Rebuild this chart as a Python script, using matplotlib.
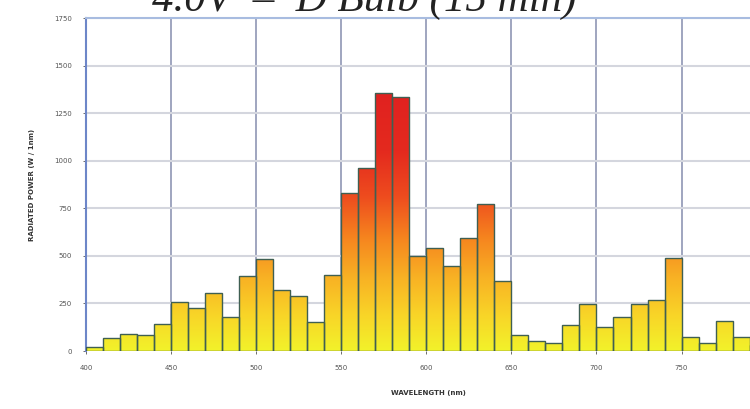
import matplotlib.pyplot as plt
import numpy as np
from matplotlib.colors import LinearSegmentedColormap

plt.rcParams.update({'font.size': 5})

# bin start wavelengths (nm) and radiated power per bin
wavelengths = list(range(400, 800, 10))
power = [20, 68, 90, 84, 142, 257, 226, 305, 179, 394,
         483, 320, 289, 152, 399, 830, 961, 1355, 1334, 499,
         541, 446, 593, 772, 368, 84, 53, 42, 137, 247,
         126, 179, 247, 268, 488, 74, 42, 158, 74, 30]
xticks = [400, 450, 500, 550, 600, 650, 700, 750]
yticks = [0, 250, 500, 750, 1000, 1250, 1500, 1750]

# colour by absolute height: yellow at the floor, red from ~800 up
cmap = LinearSegmentedColormap.from_list(
    'heat', [(0.0, '#f2f22a'), (0.12, '#f8d828'), (0.28, '#f8b024'),
             (0.42, '#f6861f'), (0.58, '#ee4c1e'), (0.75, '#e42a1e'),
             (1.0, '#e02020')])

fig = plt.figure(figsize=(7.5, 4.09), dpi=100)
ax = fig.add_axes([0.1147, 0.1418, 0.912, 0.814])

bars = ax.bar(wavelengths, power, width=10, align='edge',
              color='none', edgecolor='#3f5f52', linewidth=1.0, zorder=3)
grad = np.linspace(0, 1, 256).reshape(-1, 1)
for b, x in zip(bars, wavelengths):
    im = ax.imshow(grad, cmap=cmap, origin='lower', aspect='auto',
                   extent=[x, x + 10, 0, 1400], zorder=2,
                   interpolation='bilinear')
    im.set_clip_path(b)

ax.set_xlim(400, 802)
ax.set_ylim(0, 1750)
ax.set_xticks(xticks)
ax.set_yticks(yticks)
ax.set_xticklabels([str(v) for v in xticks], color='#555555')
ax.set_yticklabels([str(v) for v in yticks], color='#555555')
ax.tick_params(length=2, width=0.6, colors='#555555', pad=8)

ax.grid(axis='x', color='#8f96b4', linewidth=1.2, zorder=0)
ax.grid(axis='y', color='#d4d6de', linewidth=1.5, zorder=0)
ax.set_axisbelow(True)
for s in ['right', 'bottom']:
    ax.spines[s].set_visible(False)
ax.spines['left'].set_color('#6d86c8')
ax.spines['left'].set_linewidth(1.5)
ax.spines['top'].set_color('#a8bce0')
ax.spines['top'].set_linewidth(1.5)

ax.set_xlabel('WAVELENGTH (nm)', color='#333333', fontweight='bold', labelpad=14)
ax.set_ylabel('RADIATED POWER (W / 1nm)', color='#333333', fontweight='bold', labelpad=14)

# title sits mostly above the top edge, only its lower part shows
fig.text(0.486, 0.972, '4.0V  \u2013  D Bulb (15 min)', fontsize=31,
         family='Liberation Serif', style='italic', color='#222222',
         ha='center', va='baseline')

fig.savefig('out.png', dpi=100)
